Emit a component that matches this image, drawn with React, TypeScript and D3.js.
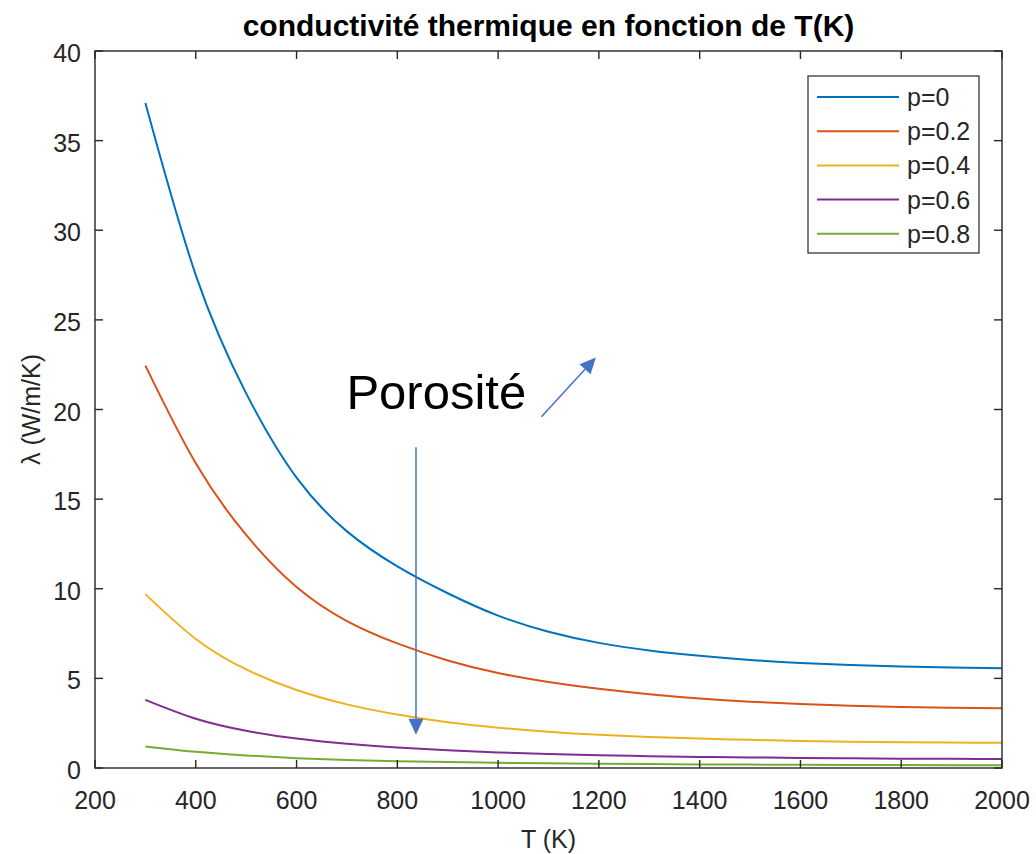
import { useEffect, useRef } from 'react';
import * as d3 from 'd3';

const temps = [300, 400, 500, 600, 700, 800, 900, 1000, 1100, 1200, 1300, 1400, 1500, 1600, 1700, 1800, 1900, 2000];

// conductivity values (W/m/K), one list per porosity
const p0 = [37.1, 27.5, 20.9, 16.2, 13.2, 11.25, 9.75, 8.5, 7.6, 6.98, 6.56, 6.26, 6.03, 5.86, 5.74, 5.66, 5.6, 5.56];
const p02 = [22.45, 17.0, 13.0, 10.1, 8.2, 6.95, 6.0, 5.3, 4.8, 4.42, 4.12, 3.88, 3.7, 3.57, 3.47, 3.4, 3.36, 3.33];
const p04 = [9.7, 7.2, 5.5, 4.35, 3.55, 2.98, 2.55, 2.25, 2.02, 1.85, 1.73, 1.64, 1.57, 1.51, 1.47, 1.44, 1.42, 1.41];
const p06 = [3.8, 2.75, 2.08, 1.64, 1.35, 1.14, 0.99, 0.87, 0.78, 0.71, 0.66, 0.62, 0.59, 0.56, 0.54, 0.52, 0.51, 0.5];
const p08 = [1.2, 0.9, 0.7, 0.55, 0.45, 0.38, 0.33, 0.29, 0.26, 0.24, 0.22, 0.2, 0.19, 0.18, 0.17, 0.17, 0.16, 0.16];

const seriesLabels = ['p=0', 'p=0.2', 'p=0.4', 'p=0.6', 'p=0.8'];
const seriesValues = [p0, p02, p04, p06, p08];

const xTicks = [200, 400, 600, 800, 1000, 1200, 1400, 1600, 1800, 2000];
const yTicks = [0, 5, 10, 15, 20, 25, 30, 35, 40];

const title = 'conductivité thermique en fonction de T(K)';
const xLabel = 'T (K)';
const yLabel = 'λ (W/m/K)';
const noteText = 'Porosité';

// annotation anchors in data units
const noteAt = { t: 699, v: 20.05 };
const diagArrow = { from: { t: 1086, v: 19.6 }, to: { t: 1194, v: 22.9 } };
const downArrow = { from: { t: 837, v: 17.9 }, to: { t: 837, v: 1.85 } };

const W = 1036;
const H = 854;
const FONT = '"Liberation Sans", Arial, Helvetica, sans-serif';
const AXIS = '#262626';
const colors = ['#0072BD', '#D95319', '#EDB120', '#7E2F8E', '#77AC30'];

const App = () => {
  const ref = useRef<SVGSVGElement | null>(null);

  useEffect(() => {
    if (!ref.current) return;
    const svg = d3.select(ref.current);
    svg.selectAll('*').remove();

    const margin = { top: 51, right: 34, bottom: 86, left: 95 };
    const x = d3.scaleLinear().domain([200, 2000]).range([margin.left, W - margin.right]);
    const y = d3.scaleLinear().domain([0, 40]).range([H - margin.bottom, margin.top]);
    const [x0, x1] = x.range();
    const [y0, y1] = y.range();

    svg.append('rect').attr('width', W).attr('height', H).attr('fill', '#fff');

    // curves
    const line = d3.line<number>()
      .x((_, i) => x(temps[i]))
      .y(d => y(d))
      .curve(d3.curveNatural);

    seriesValues.forEach((vals, i) => {
      svg.append('path')
        .datum(vals)
        .attr('fill', 'none')
        .attr('stroke', colors[i])
        .attr('stroke-width', 2)
        .attr('d', line);
    });

    // box and inward ticks
    const tl = 8;
    const axisG = svg.append('g').attr('stroke', AXIS).attr('stroke-width', 1.4);
    axisG.append('rect')
      .attr('x', x0).attr('y', y1)
      .attr('width', x1 - x0).attr('height', y0 - y1)
      .attr('fill', 'none');
    xTicks.forEach(t => {
      axisG.append('line').attr('x1', x(t)).attr('x2', x(t)).attr('y1', y0).attr('y2', y0 - tl);
      axisG.append('line').attr('x1', x(t)).attr('x2', x(t)).attr('y1', y1).attr('y2', y1 + tl);
    });
    yTicks.forEach(v => {
      axisG.append('line').attr('x1', x0).attr('x2', x0 + tl).attr('y1', y(v)).attr('y2', y(v));
      axisG.append('line').attr('x1', x1).attr('x2', x1 - tl).attr('y1', y(v)).attr('y2', y(v));
    });

    // tick labels
    svg.append('g').selectAll('text')
      .data(xTicks)
      .join('text')
      .attr('x', d => x(d))
      .attr('y', y0 + 41)
      .attr('text-anchor', 'middle')
      .attr('font-family', FONT)
      .attr('font-size', 25)
      .attr('fill', AXIS)
      .text(d => String(d));

    svg.append('g').selectAll('text')
      .data(yTicks)
      .join('text')
      .attr('x', x0 - 14)
      .attr('y', d => y(d) + 11)
      .attr('text-anchor', 'end')
      .attr('font-family', FONT)
      .attr('font-size', 25)
      .attr('fill', AXIS)
      .text(d => String(d));

    // title and axis labels
    svg.append('text')
      .attr('x', (x0 + x1) / 2)
      .attr('y', 36)
      .attr('text-anchor', 'middle')
      .attr('font-family', FONT)
      .attr('font-weight', 'bold')
      .attr('font-size', 30)
      .attr('fill', '#000')
      .text(title);

    svg.append('text')
      .attr('x', (x0 + x1) / 2)
      .attr('y', 848)
      .attr('text-anchor', 'middle')
      .attr('font-family', FONT)
      .attr('font-size', 25)
      .attr('fill', AXIS)
      .text(xLabel);

    svg.append('text')
      .attr('transform', `translate(40,${(y0 + y1) / 2}) rotate(-90)`)
      .attr('text-anchor', 'middle')
      .attr('font-family', FONT)
      .attr('font-size', 25)
      .attr('fill', AXIS)
      .text(yLabel);

    // legend
    const lg = svg.append('g').attr('transform', 'translate(808,76)');
    lg.append('rect')
      .attr('width', 171).attr('height', 177)
      .attr('fill', '#fff')
      .attr('stroke', AXIS)
      .attr('stroke-width', 1.2);
    seriesLabels.forEach((lab, i) => {
      const cy = 21 + i * 34.2;
      lg.append('line')
        .attr('x1', 9).attr('x2', 91)
        .attr('y1', cy).attr('y2', cy)
        .attr('stroke', colors[i]).attr('stroke-width', 2);
      lg.append('text')
        .attr('x', 99).attr('y', cy + 9)
        .attr('font-family', FONT)
        .attr('font-size', 25)
        .attr('fill', AXIS)
        .text(lab);
    });

    // annotation
    svg.append('text')
      .attr('x', x(noteAt.t))
      .attr('y', y(noteAt.v))
      .attr('font-family', FONT)
      .attr('font-size', 49)
      .attr('fill', '#000')
      .text(noteText);

    const arrow = (a: { from: { t: number; v: number }; to: { t: number; v: number } }) => {
      const ax = x(a.from.t), ay = y(a.from.v);
      const bx = x(a.to.t), by = y(a.to.v);
      const ang = Math.atan2(by - ay, bx - ax);
      const len = 16, half = 7.5;
      const baseX = bx - len * Math.cos(ang), baseY = by - len * Math.sin(ang);
      svg.append('line')
        .attr('x1', ax).attr('y1', ay).attr('x2', baseX).attr('y2', baseY)
        .attr('stroke', '#4472C4').attr('stroke-width', 1.5);
      const pts = [
        [bx, by],
        [baseX + half * Math.sin(ang), baseY - half * Math.cos(ang)],
        [baseX - half * Math.sin(ang), baseY + half * Math.cos(ang)],
      ];
      svg.append('polygon')
        .attr('points', pts.map(p => p.join(',')).join(' '))
        .attr('fill', '#4472C4');
    };
    arrow(diagArrow);
    arrow(downArrow);

    return () => {
      svg.selectAll('*').remove();
    };
  }, []);

  return (
    <svg
      ref={ref}
      width={W}
      height={H}
      style={{ position: 'absolute', left: 0, top: 0, display: 'block' }}
    />
  );
};

export default App;
